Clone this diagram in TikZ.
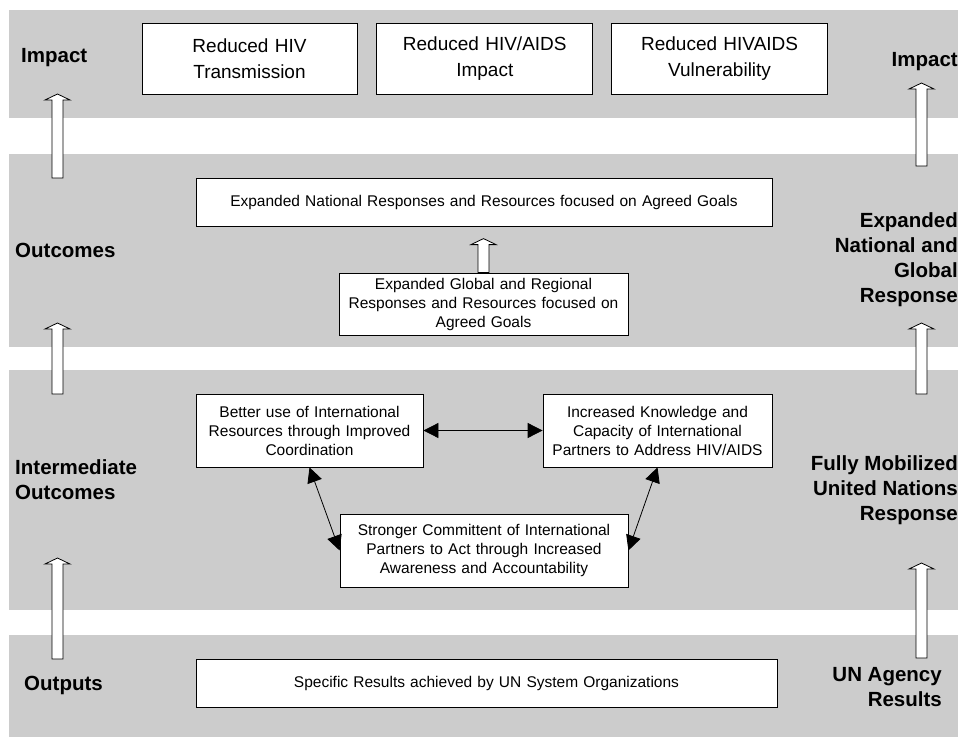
\documentclass[tikz,border=0pt]{standalone}
\usepackage{fontspec}
\setmainfont{Liberation Sans}
\usetikzlibrary{arrows.meta,positioning}
\definecolor{bandgray}{HTML}{CCCCCC}
% hollow up arrow: bottom centre, length
\newcommand{\blockarrow}[2]{%
  \draw[hollow] (#1) ++(-5.5,0) -- ++(11,0) -- ++(0,-#2+6) -- ++(7,0) -- ++(-12.5,-6) -- ++(-12.5,6) -- ++(7,0) -- cycle;}

\begin{document}
\begin{tikzpicture}
		[x=1pt, y=-1pt,
		box/.style = {draw, fill=white, align=center, inner sep=0pt, line width=0.8pt},
		big/.style = {font=\fontsize{19}{26}\selectfont},
		small/.style = {font=\fontsize{15.5}{19}\selectfont},
		lab/.style = {font=\fontsize{20.5}{25}\selectfont\bfseries, inner sep=0pt},
		hollow/.style = {draw, fill=white, line width=0.8pt},
		link/.style = {{Triangle[length=15pt,width=15pt]}-{Triangle[length=15pt,width=15pt]}, line width=0.8pt}]
        \useasboundingbox (0,0) rectangle (958,738);

        % bands
        \fill[bandgray] (9,10) rectangle (958,118);
        \fill[bandgray] (9,154) rectangle (958,347);
        \fill[bandgray] (9,370) rectangle (958,610);
        \fill[bandgray] (9,635) rectangle (958,737);

        \node[box, big, text width=215pt, minimum height=71pt] (t1) at (249.5,58.5) {Reduced HIV\\Transmission};
        \node[box, big, text width=216pt, minimum height=71pt] (t2) [right = 19pt of t1] {Reduced HIV/AIDS\\Impact};
        \node[box, big, text width=216pt, minimum height=71pt] (t3) [right = 18pt of t2] {Reduced HIVAIDS\\Vulnerability};

        \node[box, small, text width=576pt, minimum height=48pt] (nat) at (484,202) {Expanded National Responses and Resources focused on Agreed Goals};
        \node[box, small, text width=289pt, minimum height=62pt] (glob) at (483.5,304) {Expanded Global and Regional\\Responses and Resources focused on\\Agreed Goals};

        \node[box, small, text width=227pt, minimum height=73pt] (better) at (309.5,430.5) {Better use of International\\Resources through Improved\\Coordination};
        \node[box, small, text width=229pt, minimum height=73pt] (incr) at (657.5,430.5) {Increased Knowledge and\\Capacity of International\\Partners to Address HIV/AIDS};
        \node[box, small, text width=288pt, minimum height=73pt] (strong) at (484,550.5) {Stronger Committent of International\\Partners to Act through Increased\\Awareness and Accountability};

        \node[box, small, text width=581pt, minimum height=48pt] (spec) at (486.5,683) {Specific Results achieved by UN System Organizations};

        \node[lab, anchor=west] (impL) at (21,58) {Impact};
        \node[lab, anchor=west] (outL) at (15,250) {Outcomes};
        \node[lab, anchor=west, align=left] (intL) at (15,479.5) {Intermediate\\Outcomes};
        \node[lab, anchor=west] (opL) at (24,685) {Outputs};
        \node[lab, anchor=east] (impR) at (958,62) {Impact};
        \node[lab, anchor=east, align=right] (expR) at (958,260) {Expanded\\National and\\Global\\Response};
        \node[lab, anchor=east, align=right] (mobR) at (958,490) {Fully Mobilized\\United Nations\\Response};
        \node[lab, anchor=east, align=right] (unR) at (942,687.5) {UN Agency\\Results};

        \coordinate (a1) at (57.5,178);
        \coordinate (a2) at (57.5,394);
        \coordinate (a3) at (57.5,659);
        \coordinate (b1) at (921.5,166);
        \coordinate (b2) at (921.5,394);
        \coordinate (b3) at (921.5,658);
        \blockarrow{a1}{84}
        \blockarrow{a2}{71}
        \blockarrow{a3}{101}
        \blockarrow{b1}{83}
        \blockarrow{b2}{71}
        \blockarrow{b3}{95}
        \blockarrow{glob.north}{34}

        \draw[link] (better) -- (incr);
        \draw[link] (better.south) -- (strong.west);
        \draw[link] (incr.south) -- (strong.east);
\end{tikzpicture}
\end{document}
